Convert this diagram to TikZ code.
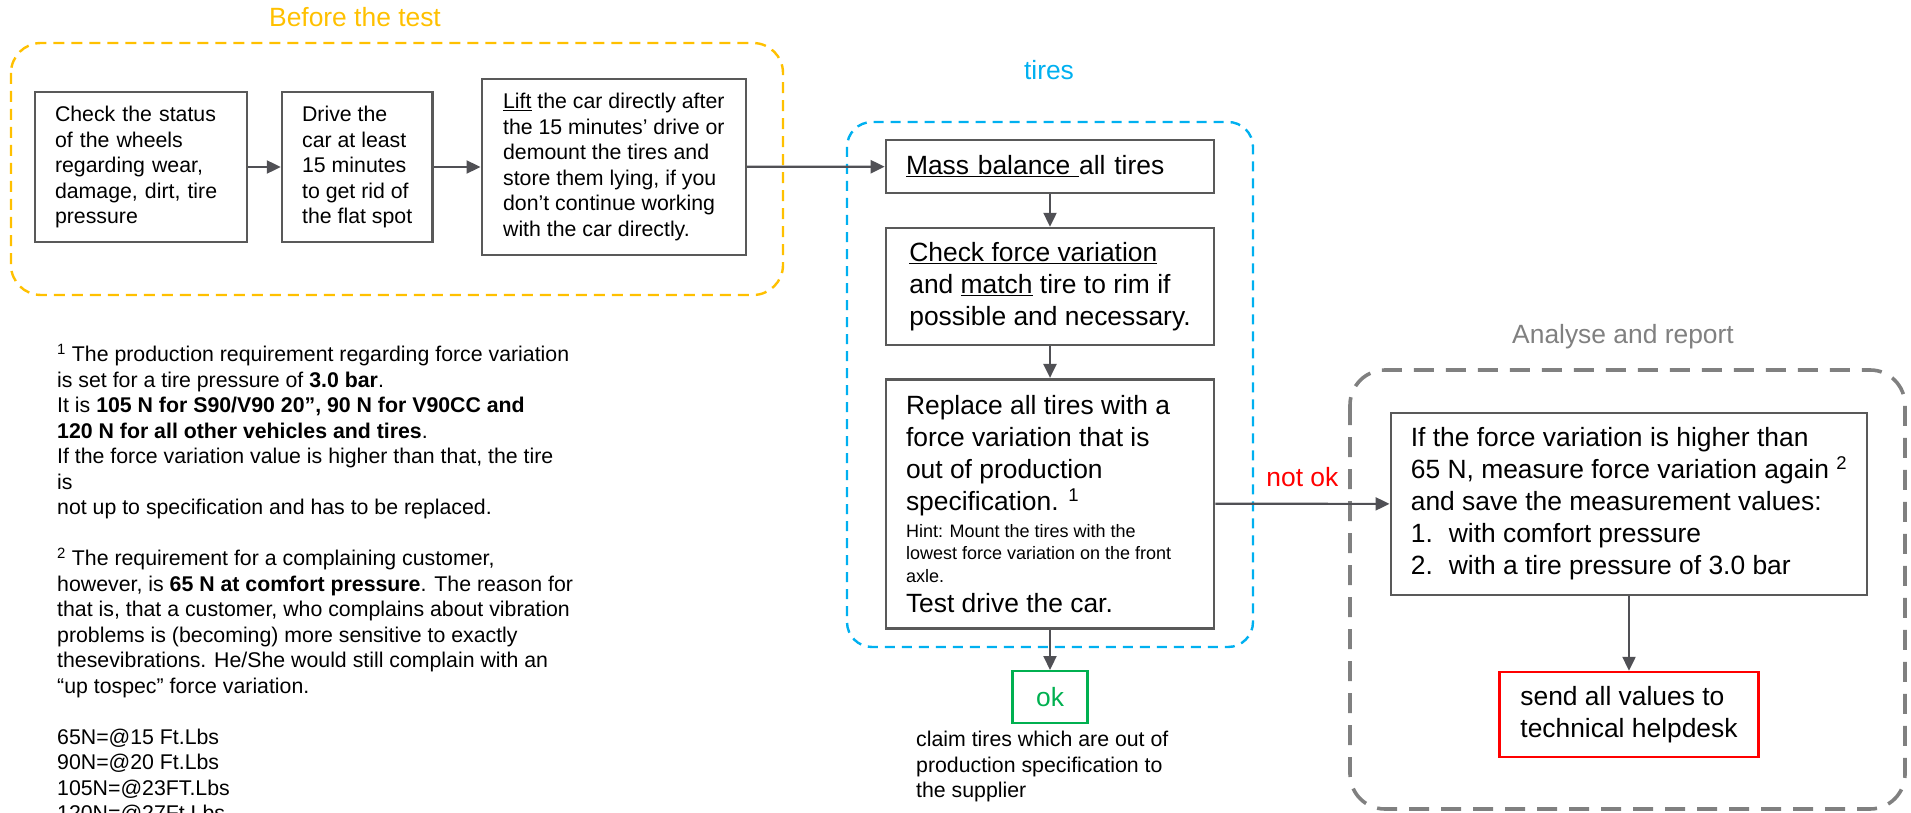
\documentclass[tikz,border=0pt]{standalone}
\usepackage{fontspec}
\setmainfont{Liberation Sans}
\usetikzlibrary{arrows.meta,positioning}
\definecolor{boxline}{HTML}{595959}
\definecolor{conn}{HTML}{505055}
\definecolor{ylw}{HTML}{FFC000}
\definecolor{cyn}{HTML}{00B0F0}
\definecolor{frm}{HTML}{808080}
\definecolor{okgrn}{HTML}{00B050}
\newcommand\smallsz{\fontsize{21.3pt}{25.5pt}\selectfont}
\newcommand\bigsz{\fontsize{26.4pt}{32pt}\selectfont}
\newcommand\hintsz{\fontsize{18pt}{22pt}\selectfont}
\tikzset{
  blk/.style={draw=boxline,rectangle,line width=2.6pt,align=left,inner xsep=20pt,inner ysep=0pt},
  smblk/.style={blk,font=\smallsz},
  lgblk/.style={blk,font=\bigsz},
  okblk/.style={draw=okgrn,rectangle,line width=2.4pt,text=okgrn,font=\bigsz,inner sep=0pt,minimum width=75pt,minimum height=52pt},
  sendblk/.style={draw=red,rectangle,line width=2.6pt,align=left,inner xsep=19pt,inner ysep=0pt,font=\bigsz},
  arr/.style={-{Triangle[length=14pt,width=13pt]},line width=2.2pt,draw=conn},
  yframe/.style={draw=ylw,line width=2.4pt,dash pattern=on 11pt off 7pt,rounded corners=30pt},
  bframe/.style={draw=cyn,line width=2.4pt,dash pattern=on 10pt off 7pt,rounded corners=25pt},
  gframe/.style={draw=frm,line width=3.6pt,dash pattern=on 20pt off 12pt,rounded corners=35pt},
  lbl/.style={font=\bigsz},
  note/.style={font=\smallsz,align=left,inner sep=0pt,anchor=north west}
}
\begin{document}
\begin{tikzpicture}[x=1pt,y=-1pt]
  \useasboundingbox (0,0) rectangle (1911,813);
  \clip (0,0) rectangle (1911,813);

  \draw[yframe] (11,43) rectangle (783,295);
  \draw[bframe] (847,122) rectangle (1253,647);
  \draw[gframe] (1350,370) rectangle (1905,809);
  \node[lbl,text=ylw] (beforelbl) at (355,17) {Before the test};
  \node[lbl,text=cyn] (tireslbl) at (1049,70) {tires};
  \node[lbl,text=frm] (analyselbl) at (1623,337) {Analyse and report};

  \node[smblk,text width=172pt,minimum height=150pt] (chk) at (141,167) {Check the status\\of the wheels\\regarding wear,\\damage, dirt, tire\\pressure};
  \node[smblk,minimum width=146pt,minimum height=150pt,right=32.5pt of chk] (drv) {Drive the\\car at least\\15 minutes\\to get rid of\\the flat spot};
  \node[smblk,minimum width=264pt,minimum height=176pt,right=47pt of drv] (lift) {\underline{Lift} the car directly after\\the 15 minutes’ drive or\\demount the tires and\\store them lying, if you\\don’t continue working\\with the car directly.};

  \node[lgblk,text width=288pt,minimum height=53pt] (mass) at (1050,166.5) {\underline{Mass balance\ }all tires};
  \node[lgblk,minimum width=328pt,minimum height=117pt,below=32.5pt of mass] (fvar) {\underline{Check force variation}\\and \underline{match} tire to rim if\\possible and necessary.};
  \node[lgblk,minimum width=328pt,minimum height=249pt,below=31.5pt of fvar] (repl) {Replace all tires with a\\force variation that is\\out of production\\specification. \textsuperscript{1}\\[-5pt]
    \hintsz Hint: Mount the tires with the\\[-9.5pt]
    \hintsz\makebox[288pt][l]{lowest force variation on the front}\\[-9.5pt]
    \hintsz axle.\\[-2pt]
    \bigsz Test drive the car.};
  \node[okblk,below=40.5pt of repl] (ok) {ok};
  \node[note] (claim) at (916,731) {claim tires which are out of\\production specification to\\the supplier};

  \node[lgblk,minimum width=476pt,minimum height=182pt] (meas) at (1629,504) {If the force variation is higher than\\65 N, measure force variation again \textsuperscript{2}\\and save the measurement values:\\\makebox[38pt][l]{1.}with comfort pressure\\\makebox[38pt][l]{2.}with a tire pressure of 3.0 bar};
  \node[sendblk,minimum width=259pt,minimum height=85pt,below=74.5pt of meas] (send) {send all values to\\technical helpdesk};

  \node[note] (fnotes) at (57,344) {\textsuperscript{1} The production requirement regarding force variation\\
    is set for a tire pressure of \textbf{3.0 bar}.\\
    It is \textbf{105 N for S90/V90 20”, 90 N for V90CC and}\\
    \textbf{120 N for all other vehicles and tires}.\\
    If the force variation value is higher than that, the tire\\
    is\\
    not up to specification and has to be replaced.\\[25.5pt]
    \textsuperscript{2} The requirement for a complaining customer,\\
    however, is \textbf{65 N at comfort pressure}. The reason for\\
    that is, that a customer, who complains about vibration\\
    problems is (becoming) more sensitive to exactly\\
    thesevibrations. He/She would still complain with an\\
    “up tospec” force variation.\\[25.5pt]
    65N=@15 Ft.Lbs\\
    90N=@20 Ft.Lbs\\
    105N=@23FT.Lbs\\
    120N=@27Ft.Lbs};

  \draw[arr] (chk)--(drv);
  \draw[arr] (drv)--(lift);
  \draw[arr] (lift)--(mass);
  \draw[arr] (mass)--(fvar);
  \draw[arr] (fvar)--(repl);
  \draw[arr] (repl)--(ok);
  \draw[arr] (repl)--node[midway,above=16pt,inner sep=0pt,text=red,font=\bigsz] (notok) {not ok} (meas);
  \draw[arr] (meas)--(send);
\end{tikzpicture}
\end{document}
